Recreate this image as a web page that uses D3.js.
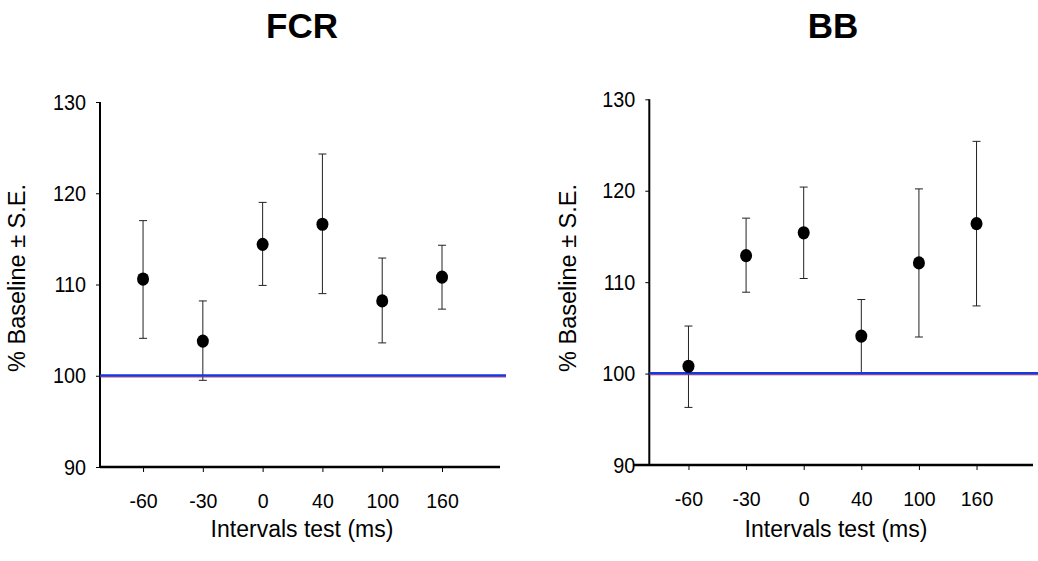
<!DOCTYPE html>
<html>
<head>
<meta charset="utf-8">
<script src="https://cdn.jsdelivr.net/npm/d3@7"></script>
<style>
  html, body { margin: 0; padding: 0; background: #fff; }
  svg { display: block; font-family: "Liberation Sans", Arial, sans-serif; }
</style>
</head>
<body>
<svg id="chart" width="1038" height="561"></svg>
<script>
const categories = ["-60", "-30", "0", "40", "100", "160"];
const fcrMean  = [110.6, 103.8, 114.4, 116.6, 108.2, 110.8];
const fcrUpper = [117.0, 108.2, 119.0, 124.3, 112.9, 114.3];
const fcrLower = [104.1,  99.5, 109.9, 109.0, 103.6, 107.3];
const bbMean   = [100.8, 112.9, 115.4, 104.1, 112.1, 116.4];
const bbUpper  = [105.2, 117.0, 120.4, 108.1, 120.2, 125.4];
const bbLower  = [ 96.3, 108.9, 110.4, 100.0, 104.0, 107.4];
const yTicks = [90, 100, 110, 120, 130];
const yDomain = [90, 130];
const baseline = 100;
const titles = ["FCR", "BB"];
const xTitle = "Intervals test (ms)";
const yTitle = "% Baseline \u00b1 S.E.";

const svg = d3.select("#chart");

const panels = [
  { title: titles[0], mean: fcrMean, upper: fcrUpper, lower: fcrLower,
    xRange: [100, 500], xDom: [-0.72, 5.97], yRange: [467, 102],
    xAxisStart: 100, lineEnd: 506, titleX: 302, xTitleX: 302, yTitleX: 17 },
  { title: titles[1], mean: bbMean, upper: bbUpper, lower: bbLower,
    xRange: [649.3, 1033], xDom: [-0.68, 5.98], yRange: [465, 99.3],
    xAxisStart: 633, lineEnd: 1038, titleX: 833, xTitleX: 836, yTitleX: 568 }
];

panels.forEach(p => {
  const g = svg.append("g");
  const x = d3.scaleLinear().domain(p.xDom).range(p.xRange);
  const y = d3.scaleLinear().domain(yDomain).range(p.yRange);
  const idx = d3.range(categories.length);

  // title
  g.append("text")
    .attr("x", p.titleX).attr("y", 38)
    .attr("text-anchor", "middle")
    .attr("font-size", 35).attr("font-weight", "bold")
    .text(p.title);

  // y axis
  const yAxis = d3.axisLeft(y).tickValues(yTicks).tickSize(4).tickPadding(10).tickFormat(d3.format("d"));
  const yg = g.append("g").attr("transform", `translate(${p.xRange[0]},0)`).call(yAxis);
  yg.select(".domain").remove();
  yg.selectAll(".tick line").attr("stroke", "#000").attr("stroke-width", 1);
  yg.selectAll(".tick text").attr("font-size", 22).attr("fill", "#000")
    .attr("font-family", "'Liberation Sans', Arial, sans-serif")
    .each(function() {
      const w = this.getComputedTextLength();
      d3.select(this).attr("textLength", w * 0.9).attr("lengthAdjust", "spacingAndGlyphs");
    });
  g.append("line")
    .attr("x1", p.xRange[0]).attr("x2", p.xRange[0])
    .attr("y1", p.yRange[1]).attr("y2", p.yRange[0] + 1)
    .attr("stroke", "#000").attr("stroke-width", 2);

  // x axis
  const xAxis = d3.axisBottom(x).tickValues(idx).tickSize(5).tickPadding(21)
    .tickFormat(i => categories[i]);
  const xg = g.append("g").attr("transform", `translate(0,${p.yRange[0]})`).call(xAxis);
  xg.select(".domain").remove();
  xg.selectAll(".tick line").attr("stroke", "#000").attr("stroke-width", 1);
  xg.selectAll(".tick text").attr("font-size", 21).attr("fill", "#000")
    .attr("font-family", "'Liberation Sans', Arial, sans-serif")
    .each(function() {
      const w = this.getComputedTextLength();
      d3.select(this).attr("textLength", w * 0.93).attr("lengthAdjust", "spacingAndGlyphs");
    });
  g.append("line")
    .attr("x1", p.xAxisStart).attr("x2", p.xRange[1])
    .attr("y1", p.yRange[0]).attr("y2", p.yRange[0])
    .attr("stroke", "#000").attr("stroke-width", 2.5);

  // axis titles
  g.append("text")
    .attr("x", p.xTitleX).attr("y", 537)
    .attr("text-anchor", "middle").attr("font-size", 23)
    .text(xTitle);
  g.append("text")
    .attr("transform", `translate(${p.yTitleX + 8},278) rotate(-90)`)
    .attr("text-anchor", "middle").attr("font-size", 23.5)
    .text(yTitle);

  // error bars
  const eb = g.append("g").attr("stroke", "#222").attr("stroke-width", 1);
  eb.selectAll("line.v").data(idx).join("line").attr("class", "v")
    .attr("x1", i => x(i)).attr("x2", i => x(i))
    .attr("y1", i => y(p.upper[i])).attr("y2", i => y(p.lower[i]));
  eb.selectAll("line.cu").data(idx).join("line").attr("class", "cu")
    .attr("x1", i => x(i) - 4).attr("x2", i => x(i) + 4)
    .attr("y1", i => y(p.upper[i])).attr("y2", i => y(p.upper[i]));
  eb.selectAll("line.cl").data(idx).join("line").attr("class", "cl")
    .attr("x1", i => x(i) - 4).attr("x2", i => x(i) + 4)
    .attr("y1", i => y(p.lower[i])).attr("y2", i => y(p.lower[i]));

  // baseline (blue with a thin red edge)
  g.append("line")
    .attr("x1", p.xRange[0]).attr("x2", p.lineEnd)
    .attr("y1", y(baseline) + 1.2).attr("y2", y(baseline) + 1.2)
    .attr("stroke", "#c0304a").attr("stroke-width", 1);
  g.append("line")
    .attr("x1", p.xRange[0]).attr("x2", p.lineEnd)
    .attr("y1", y(baseline) - 0.3).attr("y2", y(baseline) - 0.3)
    .attr("stroke", "#1638e0").attr("stroke-width", 2.4);

  // points
  g.selectAll("ellipse").data(idx).join("ellipse")
    .attr("cx", i => x(i)).attr("cy", i => y(p.mean[i]))
    .attr("rx", 6).attr("ry", 6.6)
    .attr("fill", "#000");
});
</script>
</body>
</html>
